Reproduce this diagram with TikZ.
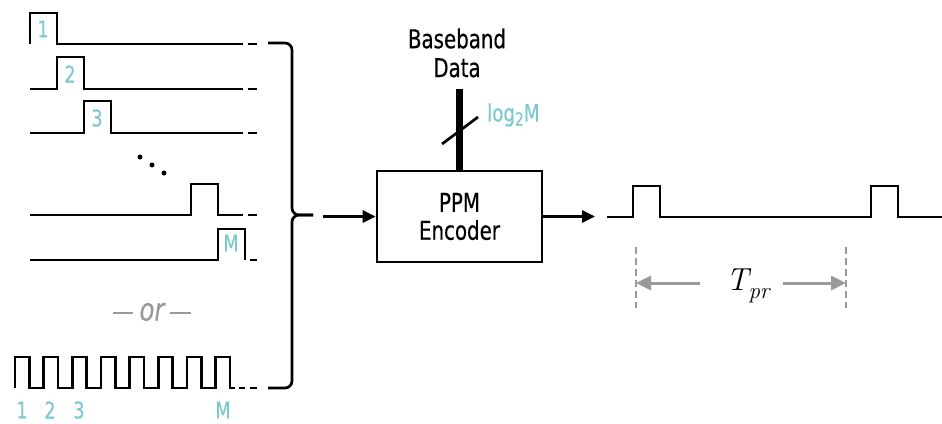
\documentclass[tikz,border=0pt]{standalone}
\usepackage{fontspec}
\setsansfont{DejaVu Sans Condensed}[FakeStretch=0.85,FakeBold=0.4]
\newfontfamily\lmfont{Latin Modern Roman}
\usetikzlibrary{arrows.meta,positioning}
\definecolor{ppmteal}{HTML}{7CC8CF}
\definecolor{ppmgrey}{HTML}{9A9A9A}

\begin{document}
\begin{tikzpicture}[x=1bp,y=-1bp,
  font=\sffamily,
  wave/.style={line width=2.7bp,line join=miter},
  lbl/.style={text=ppmteal,font=\sffamily\fontsize{23}{23}\selectfont,inner sep=0pt},
  big/.style={font=\sffamily\fontsize{26}{28}\selectfont,align=center,inner sep=0pt},
  tarrow/.style={draw=ppmgrey,line width=3bp,-{Triangle[length=15bp,width=14bp]}},
  >={Triangle[length=13bp,width=12bp]}]
\useasboundingbox (0,0) rectangle (942,423);

% one pulse per slot
\draw[wave] (30,44) -- (30,13) -- (57,13) -- (57,44) -- (243,44);
\draw[wave] (30,89) -- (57,89) -- (57,57) -- (84,57) -- (84,89) -- (243,89);
\draw[wave] (30,133) -- (84,133) -- (84,101) -- (111,101) -- (111,133) -- (243,133);
\draw[wave] (30,215) -- (191,215) -- (191,184) -- (218,184) -- (218,215) -- (243,215);
\draw[wave] (30,260) -- (218,260) -- (218,229) -- (245,229) -- (245,260);
\foreach \y in {44,89,133,215}
  \draw[wave] (248,\y) -- (257,\y);
\draw[wave] (250,260) -- (257,260);
\foreach \x/\y in {140/157,152/165,164/173}
  \fill (\x,\y) circle (2.5bp);
\node[lbl] (s1) at (43,29) {1};
\node[lbl] (s2) at (70,74) {2};
\node[lbl] (s3) at (97,118) {3};
\node[lbl] (sM) at (231,243) {M};

% or
\node[text=ppmgrey,font=\sffamily\itshape\fontsize{32}{32}\selectfont,inner sep=0pt] (or) at (152,312) {or};
\draw[ppmgrey,line width=2.6bp] ([xshift=-6bp]or.west |- 0,313) -- ++(-20,0);
\draw[ppmgrey,line width=2.6bp] ([xshift=5bp]or.east |- 0,313) -- ++(21,0);

% clock
\draw[wave] (15,388) \foreach \i in {0,...,7}{
    -- ({15+28.67*\i},388) -- ({15+28.67*\i},357) -- ({29.33+28.67*\i},357) -- ({29.33+28.67*\i},388)}
  -- (235,388);
\draw[wave] (239,388) -- (245,388);
\draw[wave] (250,388) -- (257,388);
\node[lbl] (c1) at (22,410) {1};
\node[lbl] (c2) at (50,410) {2};
\node[lbl] (c3) at (79,410) {3};
\node[lbl] (cM) at (223,410) {M};

% brace
\coordinate (tip) at (313,215);
\draw[wave,rounded corners=7bp] (268,43) -- (292,43) -- (292,215) -- (tip);
\draw[wave,rounded corners=7bp] (268,388) -- (292,388) -- (292,215) -- (tip);

% encoder
\node[draw,line width=2.6bp,minimum width=165bp,minimum height=91bp,big] (enc) at (459.5,216.5) {PPM\\Encoder};
\node[big,font=\sffamily\fontsize{26}{29}\selectfont] (bb) at (457,53) {Baseband\\Data};
\draw[line width=7bp] (enc.north) -- ++(0,-81);
\draw[line width=2.7bp] (442,144) -- (478,117);
\node[lbl,font=\sffamily\fontsize{24}{24}\selectfont,anchor=base west] (bits) at (487,121.5)
  {log\raisebox{-4bp}{\fontsize{18}{18}\selectfont 2}M};

\coordinate (in) at (323,216.5);
\coordinate (out) at (595,216.5);
\draw[wave,->] (in) -- (enc.west);
\draw[wave,->] (enc.east) -- (out);

% output
\draw[wave] (607,217) -- (633,217) -- (633,186) -- (660,186) -- (660,217) -- (871,217)
  -- (871,186) -- (898,186) -- (898,217) -- (942,217);
\draw[ppmgrey,line width=2bp,dash pattern=on 7bp off 4bp] (636,247) -- (636,308);
\draw[ppmgrey,line width=2bp,dash pattern=on 7bp off 4bp] (846,247) -- (846,308);
\node[font=\lmfont\itshape\fontsize{32}{32}\selectfont,inner sep=0pt,anchor=base west] (T) at (726,290)
  {T\raisebox{-8bp}{\fontsize{23}{23}\selectfont pr}};
\coordinate (tl) at (636,283);
\coordinate (tr) at (846,283);
\draw[tarrow] (700,283) -- (tl);
\draw[tarrow] (783,283) -- (tr);
\end{tikzpicture}
\end{document}
